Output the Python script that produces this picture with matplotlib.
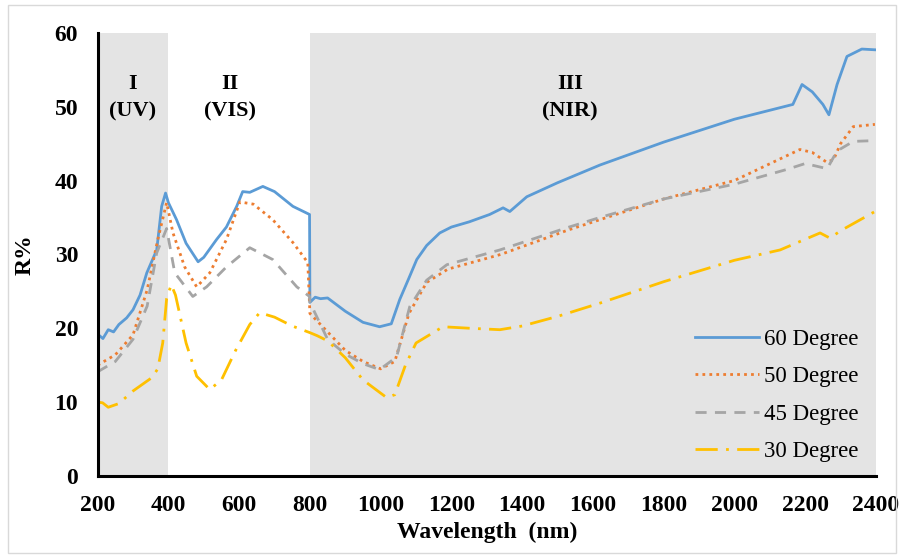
import matplotlib.pyplot as plt
from matplotlib.patches import Rectangle

plt.rcParams["font.family"] = ["Liberation Serif", "DejaVu Serif"]

# 60 Degree
wl_60 = [200, 215, 230, 245, 260, 282, 300, 320, 339, 367, 381, 392, 400, 423, 450, 484, 500, 536,
         564, 593, 610, 630, 667, 700, 752, 799, 800, 815, 830, 850, 900, 950, 997, 1030, 1054, 1080,
         1102, 1130, 1167, 1200, 1250, 1308, 1346, 1365, 1413, 1500, 1620, 1800, 2000, 2165, 2191,
         2220, 2250, 2267, 2290, 2318, 2360, 2397]
r_60 = [19.2, 18.6, 19.8, 19.5, 20.5, 21.4, 22.5, 24.5, 27.5, 30.6, 36.5, 38.3, 37.0, 34.7, 31.5,
        29.0, 29.6, 32.0, 33.7, 36.5, 38.5, 38.4, 39.2, 38.5, 36.5, 35.4, 23.5, 24.2, 24.0, 24.1,
        22.3, 20.8, 20.2, 20.6, 23.9, 26.8, 29.3, 31.2, 32.9, 33.7, 34.4, 35.4, 36.3, 35.8, 37.8,
        39.7, 42.1, 45.2, 48.3, 50.3, 53.0, 52.0, 50.3, 48.9, 53.0, 56.8, 57.8, 57.7]

# 50 Degree
wl_50 = [200, 250, 300, 340, 370, 395, 413, 446, 480, 517, 564, 602, 640, 695, 752, 794, 800,
         820, 850, 900, 950, 1000, 1040, 1080, 1130, 1190, 1340, 1530, 1620, 1800, 2000, 2185,
         2220, 2260, 2280, 2300, 2336, 2397]
r_50 = [15.0, 16.4, 19.1, 25.2, 32.0, 37.0, 32.9, 28.3, 25.6, 27.5, 32.0, 37.1, 36.8, 34.7, 31.6,
        28.9, 22.0, 21.0, 19.5, 17.0, 15.5, 14.5, 15.5, 22.0, 26.2, 28.0, 30.0, 33.3, 34.7, 37.5,
        40.0, 44.2, 43.8, 42.5, 42.8, 45.0, 47.3, 47.6]

# 45 Degree
wl_45 = [200, 250, 300, 340, 367, 395, 418, 469, 508, 564, 630, 695, 763, 799, 800, 850, 900,
         950, 997, 1045, 1082, 1130, 1187, 1337, 1526, 1620, 1800, 2000, 2148, 2200, 2262, 2290,
         2336, 2397]
r_45 = [14.1, 15.5, 18.5, 23.0, 30.2, 33.5, 27.5, 24.3, 25.6, 28.3, 30.9, 29.3, 25.6, 24.3, 23.5,
        18.5, 16.5, 15.2, 14.4, 16.1, 22.9, 26.5, 28.6, 30.6, 33.6, 35.0, 37.5, 39.5, 41.5, 42.3,
        41.6, 44.0, 45.3, 45.4]

# 30 Degree
wl_30 = [200, 214, 230, 260, 300, 353, 370, 384, 395, 408, 420, 450, 480, 517, 550, 590, 630,
         658, 700, 750, 800, 820, 850, 900, 950, 1017, 1040, 1070, 1100, 1176, 1250, 1337, 1400,
         1500, 1620, 1800, 2000, 2129, 2242, 2270, 2300, 2397]
r_30 = [10.0, 9.9, 9.3, 9.8, 11.5, 13.3, 14.5, 18.0, 24.0, 25.9, 24.5, 18.0, 13.5, 11.7, 13.0,
        17.0, 20.5, 22.1, 21.5, 20.3, 19.4, 19.0, 18.3, 16.0, 13.0, 10.6, 11.0, 15.0, 18.0, 20.2,
        20.0, 19.8, 20.3, 21.6, 23.4, 26.3, 29.2, 30.6, 32.9, 32.2, 33.2, 35.8]

regions = [(200, 400), (800, 2400)]
region_labels = [(300, "I\n(UV)"), (575, "II\n(VIS)"), (1535, "III\n(NIR)")]

fig = plt.figure(figsize=(9.04, 5.56), dpi=100)
ax = fig.add_axes([0.108, 0.144, 0.861, 0.797])

for x0, x1 in regions:
    ax.axvspan(x0, x1, color="#e4e4e4", lw=0, zorder=0)

ax.plot(wl_60, r_60, color="#5b9bd5", lw=2.0, label="60 Degree")
ax.plot(wl_50, r_50, color="#ed7d31", lw=2.0, ls=(0, (1, 1.5)), label="50 Degree")
ax.plot(wl_45, r_45, color="#a5a5a5", lw=2.0, ls=(0, (4, 3)), label="45 Degree")
ax.plot(wl_30, r_30, color="#ffc000", lw=2.0, ls=(0, (8, 3, 1, 3)), label="30 Degree")

for x, txt in region_labels:
    ax.text(x, 51.2, txt, ha="center", va="center", fontsize=16, fontweight="bold",
            linespacing=1.5)

ax.set_xlim(200, 2400)
ax.set_ylim(0, 60)
ax.set_xticks(range(200, 2401, 200))
ax.set_yticks(range(0, 61, 10))
ax.tick_params(length=0, labelsize=17, pad=14)
for lbl in ax.get_xticklabels() + ax.get_yticklabels():
    lbl.set_fontweight("bold")

ax.set_xlabel("Wavelength  (nm)", fontsize=17, fontweight="bold", labelpad=4)
ax.set_ylabel("R%", fontsize=17, fontweight="bold", labelpad=14)

for side in ["top", "right"]:
    ax.spines[side].set_visible(False)
for side in ["left", "bottom"]:
    ax.spines[side].set_linewidth(2.2)
    ax.spines[side].set_color("black")

ax.legend(loc="lower right", bbox_to_anchor=(0.995, 0.0), frameon=False, fontsize=16.5,
          handlelength=2.8, handletextpad=0.2, labelspacing=0.72, borderaxespad=0.2)

fig.patches.append(Rectangle((0.009, 0.006), 0.982, 0.985, transform=fig.transFigure,
                             fill=False, edgecolor="#d9d9d9", lw=1))

fig.savefig("out.png", dpi=100)
